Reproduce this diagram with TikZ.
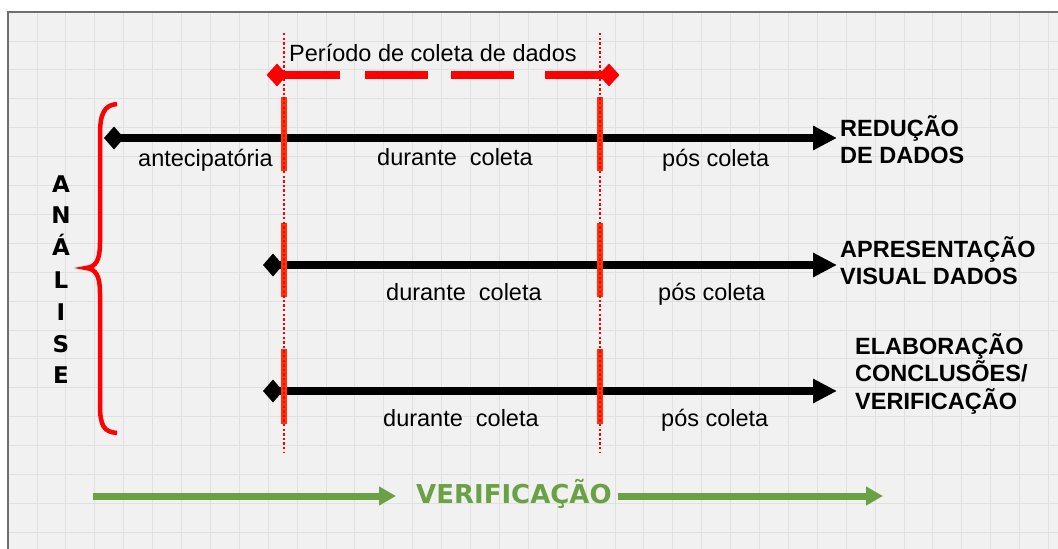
\documentclass[tikz,border=0pt]{standalone}
\usepackage{fontspec}
\setmainfont{Liberation Sans}
\newfontfamily\dvs{DejaVu Sans}
\usetikzlibrary{arrows.meta,shapes.geometric}
\definecolor{bgc}{RGB}{241,241,241}
\definecolor{gridc}{RGB}{224,224,224}
\definecolor{framec}{RGB}{110,110,110}
\definecolor{vgreen}{RGB}{106,161,68}
\definecolor{segred}{RGB}{255,50,10}
\begin{document}
\begin{tikzpicture}[x=1pt,y=-1pt,
  lbl/.style={inner sep=0pt,anchor=base west,font=\fontsize{23.5}{27}\selectfont},
  blbl/.style={inner sep=0pt,anchor=base west,font=\fontsize{23.5}{27}\selectfont\bfseries},
  anl/.style={inner sep=0pt,anchor=base,font=\dvs\fontsize{23}{27}\selectfont\bfseries},
  vlbl/.style={inner sep=0pt,anchor=base west,text=vgreen,font=\dvs\fontsize{26}{30}\selectfont\bfseries},
  blk/.style={line width=8.5pt,{Diamond[length=20pt,width=23pt]}-{Triangle[length=24pt,width=23pt]}},
  garr/.style={vgreen,line width=7pt,-{Triangle[length=17pt,width=18pt]}},
  seg/.style={segred,line width=6pt},
  dotl/.style={red,line width=2.6pt,dash pattern=on 2.4pt off 2.2pt},
  rdiam/.style={diamond,fill=red,minimum width=21pt,minimum height=23pt,inner sep=0pt}
]
\useasboundingbox (0,0) rectangle (1058,549);
\fill[white] (0,0) rectangle (1058,549);
\fill[bgc] (8,12) rectangle (1060,551);
\foreach \i in {1,...,36} \draw[gridc,line width=0.8pt] ({8+28.9*\i},12) -- ({8+28.9*\i},551);
\foreach \j in {1,...,18} \draw[gridc,line width=0.8pt] (8,{12+28.9*\j}) -- (1060,{12+28.9*\j});
\draw[framec,line width=1.5pt] (8,551) -- (8,12) -- (1060,12);

% period of data collection
\coordinate (pl) at (277,75);
\coordinate (pr) at (609,75);
\draw[red,line width=8.5pt,dash pattern=on 63pt off 25pt on 63pt off 23pt on 63pt off 31pt on 100pt] (pl) -- (pr);
\node[rdiam] (dl) at (pl) {};
\node[rdiam] (dr) at (pr) {};
\node[lbl] (per) at (289,61) {Período de coleta de dados};

% black timelines
\coordinate (s1) at (104,138); \coordinate (e1) at (837,138);
\coordinate (s2) at (263,265); \coordinate (e2) at (837,265);
\coordinate (s3) at (263,391); \coordinate (e3) at (837,391);
\draw[blk] (s1) -- (e1);
\draw[blk] (s2) -- (e2);
\draw[blk] (s3) -- (e3);

% red vertical markers
\foreach \x in {284,600} {
  \draw[seg] (\x,97) -- (\x,171);
  \draw[seg] (\x,223) -- (\x,297);
  \draw[seg] (\x,349) -- (\x,424);
  \draw[dotl] (\x,33) -- (\x,452);
}

% labels under lines
\node[lbl] (ant) at (138,166) {antecipatória};
\node[lbl] (dur1) at (377,165) {durante\ \ coleta};
\node[lbl] (pos1) at (662,166) {pós coleta};
\node[lbl] (dur2) at (386,300) {durante\ \ coleta};
\node[lbl] (pos2) at (658,300) {pós coleta};
\node[lbl] (dur3) at (383,426) {durante\ \ coleta};
\node[lbl] (pos3) at (661,426) {pós coleta};

% bold labels at arrow ends
\node[blbl] (red1) at (840,136) {REDUÇÃO};
\node[blbl] (red2) at (840,163) {DE DADOS};
\node[blbl] (ap1) at (840,257) {APRESENTAÇÃO};
\node[blbl] (ap2) at (840,284) {VISUAL DADOS};
\node[blbl] (el1) at (855,354) {ELABORAÇÃO};
\node[blbl] (el2) at (855,381) {CONCLUSÕES/};
\node[blbl] (el3) at (855,409) {VERIFICAÇÃO};

% brace and ANALISE
\draw[red,line width=4.5pt] (117,104) .. controls (104,105) and (100,114) .. (100,135) -- (100,243)
  .. controls (100,260) and (96,267) .. (86,268) .. controls (96,269) and (100,276) .. (100,293)
  -- (100,405) .. controls (100,426) and (104,432) .. (117,433);
\foreach \l/\y/\n in {A/192/a1,N/223/a2,Á/255/a3,L/288/a4,I/320/a5,S/352/a6,E/383/a7}
  \node[anl] (\n) at (61,\y) {\l};

% verification
\node[vlbl] (ver) at (416,503) {VERIFICAÇÃO};
\coordinate (g1) at (93,496); \coordinate (g2) at (396,496);
\coordinate (g3) at (618,496); \coordinate (g4) at (883,496);
\draw[garr] (g1) -- (g2);
\draw[garr] (g3) -- (g4);
\end{tikzpicture}
\end{document}
